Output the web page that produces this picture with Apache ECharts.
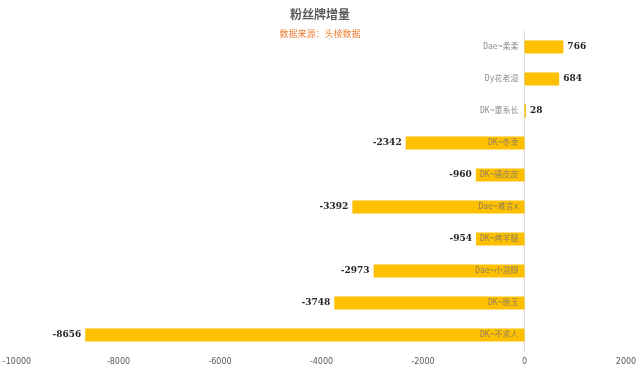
<!DOCTYPE html>
<html><head><meta charset="utf-8">
<script src="https://cdn.jsdelivr.net/npm/echarts@6/dist/echarts.min.js"></script>
<style>html,body{margin:0;padding:0;background:#fff}#c{width:640px;height:383px}</style>
</head><body><div id="c"></div>
<script>
const categories = ["Dae~柔柔","Dy花老湿","DK~董系长","DK~冬季","DK~骚皮皮","Dae~难言x","DK~烤羊腿","Dae~小混脚","DK~晚玉","DK~不求人"];
const values = [766, 684, 28, -2342, -960, -3392, -954, -2973, -3748, -8656];
const xTicks = [-10000, -8000, -6000, -4000, -2000, 0, 2000];

const chart = echarts.init(document.getElementById('c'), null, {renderer:'canvas'});
chart.setOption({
  animation:false,
  backgroundColor:'#fff',
  title:{
    text:'粉丝牌增量', subtext:'数据来源：头榜数据',
    left:'center', top:3, itemGap:9,
    textStyle:{fontSize:12, fontWeight:'bold', color:'#595959', fontFamily:'Noto Sans CJK SC'},
    subtextStyle:{fontSize:9, color:'#ED7D31', fontFamily:'Noto Sans CJK SC'}
  },
  grid:{left:17, right:14, top:31, bottom:32, containLabel:false, outerBoundsMode:'none'},
  xAxis:{
    type:'value', min:xTicks[0], max:xTicks[xTicks.length-1], interval:2000,
    axisLine:{show:false}, axisTick:{show:false},
    splitLine:{show:false},
    axisLabel:{color:'#595959', fontSize:8, margin:7, fontFamily:'DejaVu Sans', formatter:v=>String(v)}
  },
  yAxis:{
    type:'category', data:categories, inverse:true,
    axisLine:{show:true, onZero:true, lineStyle:{color:'#d9d9d9', width:1}},
    axisTick:{show:false},
    axisLabel:{show:false}
  },
  series:[{
    type:'bar', data:values.map(v=>({value:v, label:{position: v>=0?'right':'left'}})),
    barWidth:13,
    itemStyle:{color:'#FFC000'},
    label:{show:true, distance:4, color:'#262626', fontSize:9, fontWeight:'bold', fontFamily:'DejaVu Serif'}
  },{
    type:'scatter', data:categories.map(c=>[0,c]), symbolSize:0, silent:true, z:5,
    label:{show:true, position:'left', distance:6, formatter:p=>p.value[1],
      color:'#767171', fontSize:8, fontFamily:'DejaVu Sans Mono, Noto Sans CJK SC'}
  }]
});
</script></body></html>
